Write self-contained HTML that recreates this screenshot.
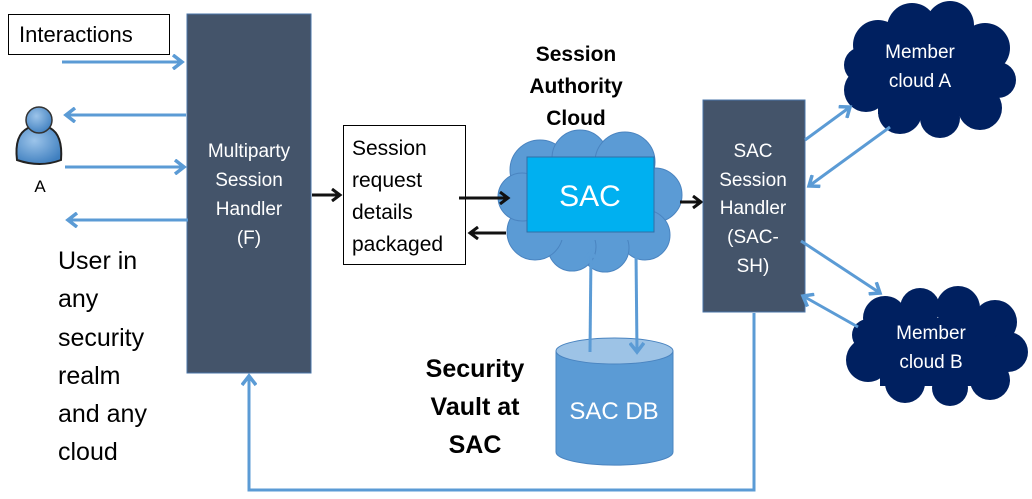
<!DOCTYPE html>
<html><head><meta charset="utf-8"><style>
body{margin:0;background:#fff;width:1032px;height:494px;overflow:hidden}
svg text{font-family:"Liberation Sans",sans-serif}
</style></head><body>
<svg width="1032" height="494" viewBox="0 0 1032 494" xmlns="http://www.w3.org/2000/svg">
<defs>
<marker id="ab" markerWidth="14" markerHeight="16" refX="11" refY="8" orient="auto" markerUnits="userSpaceOnUse"><path d="M2,1 L11,8 L2,15" fill="none" stroke="#5b9bd5" stroke-width="3.5"/></marker>
<marker id="ak" markerWidth="12" markerHeight="14" refX="9" refY="7" orient="auto" markerUnits="userSpaceOnUse"><path d="M1,1 L9,7 L1,13" fill="none" stroke="#111" stroke-width="3"/></marker>
<radialGradient id="pg" cx="0.4" cy="0.35" r="0.7"><stop offset="0" stop-color="#9cc4ea"/><stop offset="1" stop-color="#3f7fbf"/></radialGradient>
</defs>
<rect x="8.5" y="14.5" width="161" height="40" fill="#fff" stroke="#000"/>
<text x="19" y="42" font-size="22">Interactions</text>
<rect x="187" y="14" width="124" height="359" fill="#44546a" stroke="#4a74a8"/>
<g fill="#fff" font-size="19" text-anchor="middle">
<text x="249" y="157">Multiparty</text><text x="249" y="186">Session</text><text x="249" y="215">Handler</text><text x="249" y="244">(F)</text></g>
<g stroke="#5b9bd5" stroke-width="3" fill="none">
<line x1="62" y1="62" x2="182" y2="62" marker-end="url(#ab)"/>
<line x1="186" y1="115" x2="66" y2="115" marker-end="url(#ab)"/>
<line x1="65" y1="167" x2="184" y2="167" marker-end="url(#ab)"/>
<line x1="188" y1="220" x2="68" y2="220" marker-end="url(#ab)"/>
</g>
<path d="M17,160 Q14,135 28,128 L50,128 Q63,135 61,160 Q40,168 17,160Z" fill="url(#pg)" stroke="#222" stroke-width="2"/>
<circle cx="39" cy="120" r="13" fill="url(#pg)" stroke="#333" stroke-width="1.5"/>
<text x="40" y="192" font-size="17" text-anchor="middle">A</text>
<g font-size="25" fill="#000">
<text x="58" y="269">User in</text><text x="58" y="307">any</text><text x="58" y="346">security</text><text x="58" y="384">realm</text><text x="58" y="422">and any</text><text x="58" y="460">cloud</text></g>
<rect x="343.5" y="125.5" width="122" height="139" fill="#fff" stroke="#000"/>
<g font-size="21"><text x="352" y="155">Session</text><text x="352" y="187">request</text><text x="352" y="219">details</text><text x="352" y="251">packaged</text></g>
<line x1="312" y1="195" x2="340" y2="195" stroke="#111" stroke-width="3" marker-end="url(#ak)"/>
<g fill="#5b9bd5" stroke="#4a84c0" stroke-width="1">
<circle cx="540" cy="170" r="30"/><circle cx="580" cy="158" r="28"/><circle cx="625" cy="162" r="30"/><circle cx="655" cy="195" r="27"/><circle cx="645" cy="235" r="25"/><circle cx="605" cy="248" r="24"/><circle cx="572" cy="247" r="24"/><circle cx="535" cy="232" r="28"/><circle cx="522" cy="197" r="24"/>
<rect x="535" y="165" width="115" height="75" stroke="none"/></g>
<rect x="527" y="157" width="127" height="75" fill="#00b0f0" stroke="#2f6fa8"/>
<text x="590" y="206" font-size="30" fill="#fff" text-anchor="middle">SAC</text>
<g font-size="21" font-weight="bold" text-anchor="middle"><text x="576" y="61">Session</text><text x="576" y="93">Authority</text><text x="576" y="125">Cloud</text></g>
<line x1="459" y1="198" x2="508" y2="198" stroke="#111" stroke-width="3" marker-end="url(#ak)"/>
<line x1="506" y1="233" x2="470" y2="233" stroke="#111" stroke-width="3" marker-end="url(#ak)"/>
<line x1="680" y1="202" x2="701" y2="202" stroke="#111" stroke-width="3" marker-end="url(#ak)"/>
<path d="M556,351 L556,452 A58,13 0 0 0 673,452 L673,351Z" fill="#5b9bd5" stroke="#4a84c0"/>
<ellipse cx="614.5" cy="351" rx="58.5" ry="13" fill="#9dc3e6" stroke="#4a84c0"/>
<text x="614" y="419" font-size="24" fill="#fff" text-anchor="middle">SAC DB</text>
<g stroke="#5b9bd5" stroke-width="3" fill="none">
<line x1="590" y1="352" x2="591" y2="252" marker-end="url(#ab)"/>
<line x1="636" y1="252" x2="637" y2="352" marker-end="url(#ab)"/>
</g>
<g font-size="25" font-weight="bold" text-anchor="middle"><text x="475" y="377">Security</text><text x="475" y="415">Vault at</text><text x="475" y="453">SAC</text></g>
<rect x="703" y="100" width="102" height="212" fill="#44546a" stroke="#4a74a8"/>
<g fill="#fff" font-size="19" text-anchor="middle">
<text x="753" y="157">SAC</text><text x="753" y="186">Session</text><text x="753" y="214">Handler</text><text x="753" y="243">(SAC-</text><text x="753" y="272">SH)</text></g>
<g fill="#002060">
<circle cx="878" cy="45" r="25"/><circle cx="912" cy="28" r="25"/><circle cx="950" cy="25" r="24"/><circle cx="985" cy="48" r="25"/><circle cx="998" cy="80" r="18"/><circle cx="980" cy="108" r="22"/><circle cx="940" cy="118" r="20"/><circle cx="900" cy="112" r="22"/><circle cx="866" cy="90" r="22"/><circle cx="862" cy="65" r="18"/><rect x="878" y="42" width="108" height="72"/>
<circle cx="885" cy="318" r="22"/><circle cx="920" cy="308" r="20"/><circle cx="958" cy="308" r="22"/><circle cx="995" cy="322" r="22"/><circle cx="1008" cy="352" r="20"/><circle cx="990" cy="380" r="20"/><circle cx="950" cy="388" r="18"/><circle cx="905" cy="383" r="20"/><circle cx="868" cy="360" r="22"/><circle cx="868" cy="335" r="16"/><rect x="880" y="318" width="115" height="68"/>
</g>
<g fill="#fff" font-size="19" text-anchor="middle"><text x="920" y="58">Member</text><text x="920" y="87">cloud A</text><text x="931" y="339">Member</text><text x="931" y="368">cloud B</text></g>
<g stroke="#5b9bd5" stroke-width="3" fill="none">
<line x1="805" y1="140" x2="850" y2="107" marker-end="url(#ab)"/>
<line x1="890" y1="127" x2="809" y2="186" marker-end="url(#ab)"/>
<line x1="801" y1="241" x2="880" y2="293" marker-end="url(#ab)"/>
<line x1="858" y1="327" x2="803" y2="296" marker-end="url(#ab)"/>
<polyline points="754,313 754,490 249,490 249,376" marker-end="url(#ab)"/>
</g>
</svg>
</body></html>
